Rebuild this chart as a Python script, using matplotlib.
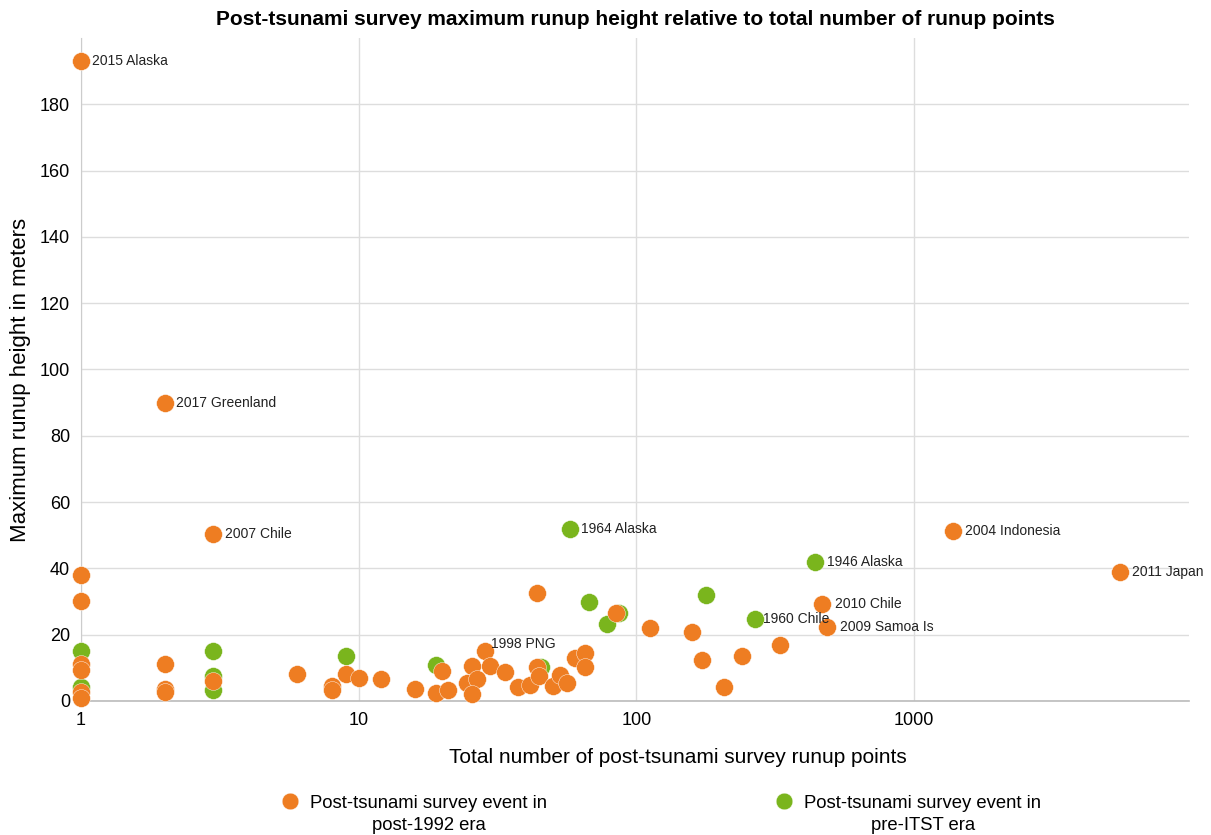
import numpy as np
import matplotlib.pyplot as plt
from matplotlib.lines import Line2D

plt.rcParams['font.family'] = ['Liberation Sans', 'DejaVu Sans']

# post-1992 era events (orange)
post_x = [1, 2, 3, 1, 1, 1, 1, 1, 1, 2, 2, 2, 3, 6, 8, 8, 9, 10, 12, 16,
          20, 19, 21, 25.6, 24.6, 26.7, 25.6, 28.6, 29.8, 33.7, 37.6, 41.5,
          43.9, 43.9, 44.5, 50.2, 53.2, 56.4, 60.3, 65.5, 65.5, 84.7, 112,
          159, 173, 207, 241, 330, 468, 488, 1388, 5546]
post_y = [193, 90, 50.4, 38.1, 30.2, 11.2, 9.4, 2.7, 0.9, 11.2, 3.5, 2.8,
          6.0, 8.1, 4.5, 3.2, 8.1, 7.0, 6.6, 3.6, 9.1, 2.4, 3.3, 10.6, 5.4,
          6.6, 2.1, 15.1, 10.6, 8.8, 4.2, 4.8, 32.6, 10.3, 7.6, 4.5, 7.9, 5.4,
          13.0, 14.5, 10.3, 26.6, 22.0, 20.8, 12.4, 4.2, 13.6, 16.9, 29.3,
          22.3, 51.3, 39.0]
post_labels = ['2015 Alaska', '2017 Greenland', '2007 Chile'] + [''] * 24 + \
              ['1998 PNG'] + [''] * 20 + \
              ['2010 Chile', '2009 Samoa Is', '2004 Indonesia', '2011 Japan']

# pre-ITST era events (green)
pre_x = [1, 1, 3, 3, 3, 9, 19, 45.5, 57.8, 67.7, 78.6, 87, 179, 268, 442]
pre_y = [15.1, 4.2, 15.1, 7.5, 3.3, 13.6, 10.9, 10.3, 52.0, 29.9, 23.3,
         26.6, 32.0, 24.8, 42.0]
pre_labels = [''] * 8 + ['1964 Alaska'] + [''] * 4 + ['1960 Chile', '1946 Alaska']

legend_first = ['Post-tsunami survey event in', 'Post-tsunami survey event in']
legend_second = ['post-1992 era', 'pre-ITST era']

orange = '#EE7D22'
green = '#7AB51D'

fig = plt.figure(figsize=(12.11, 8.35), dpi=100)
ax = fig.add_axes([0.0669, 0.1605, 0.915, 0.794])

ax.scatter(pre_x, pre_y, s=165, color=green, edgecolor='white', linewidth=0.3,
           zorder=3, clip_on=False)
ax.scatter(post_x, post_y, s=165, color=orange, edgecolor='white', linewidth=0.3,
           zorder=4, clip_on=False)

# point labels
for xs, ys, labs in [(post_x, post_y, post_labels), (pre_x, pre_y, pre_labels)]:
    for x, y, lab in zip(xs, ys, labs):
        if not lab:
            continue
        off = (8, 0)
        if lab == '1998 PNG':
            off = (4, 5)
        elif lab in ('2010 Chile', '2009 Samoa Is'):
            off = (9, 0)
        elif lab == '1960 Chile':
            off = (6, 0)
        ax.annotate(lab, (x, y), xytext=off, textcoords='offset points',
                    ha='left', va='center', fontsize=10, color='#222222', zorder=5)

ax.set_xscale('log')
ax.set_xlim(1, 9800)
ax.set_ylim(0, 200)
ax.set_xticks([1, 10, 100, 1000])
ax.set_xticklabels(['1', '10', '100', '1000'])
ax.xaxis.set_minor_locator(plt.NullLocator())
ax.set_yticks(np.arange(0, 181, 20))
ax.tick_params(length=0, labelsize=13, pad=8)

ax.grid(True, color='#dddddd', linewidth=1)
ax.set_axisbelow(True)
for side in ['top', 'right']:
    ax.spines[side].set_visible(False)
ax.spines['left'].set_color('#cccccc')
ax.spines['bottom'].set_color('#bbbbbb')
ax.spines['bottom'].set_linewidth(1.2)

ax.set_title('Post-tsunami survey maximum runup height relative to total number of runup points',
             fontsize=15, fontweight='bold', pad=9)
ax.set_xlabel('Total number of post-tsunami survey runup points', fontsize=15)
ax.xaxis.set_label_coords(0.539, -0.071)
ax.set_ylabel('Maximum runup height in meters', fontsize=16)
ax.yaxis.set_label_coords(-0.045, 0.484)

# legend: marker beside first line, second line centred underneath
handles = [Line2D([], [], ls='', marker='o', ms=12, color=orange, mec='white', mew=0.3),
           Line2D([], [], ls='', marker='o', ms=12, color=green, mec='white', mew=0.3)]
leg = fig.legend(handles, legend_first, loc='center', bbox_to_anchor=(0.545, 0.038),
                 ncol=2, frameon=False, fontsize=13.3, columnspacing=12.2,
                 handletextpad=0.5, handlelength=1.2)
fig.canvas.draw()
W, H = fig.canvas.get_width_height()
for t, second in zip(leg.get_texts(), legend_second):
    bb = t.get_window_extent()
    fig.text((bb.x0 + bb.x1) / 2 / W, (bb.y0 + bb.y1) / 2 / H - 22 / H, second,
             ha='center', va='center', fontsize=13.3)

fig.savefig('out.png', dpi=100)
